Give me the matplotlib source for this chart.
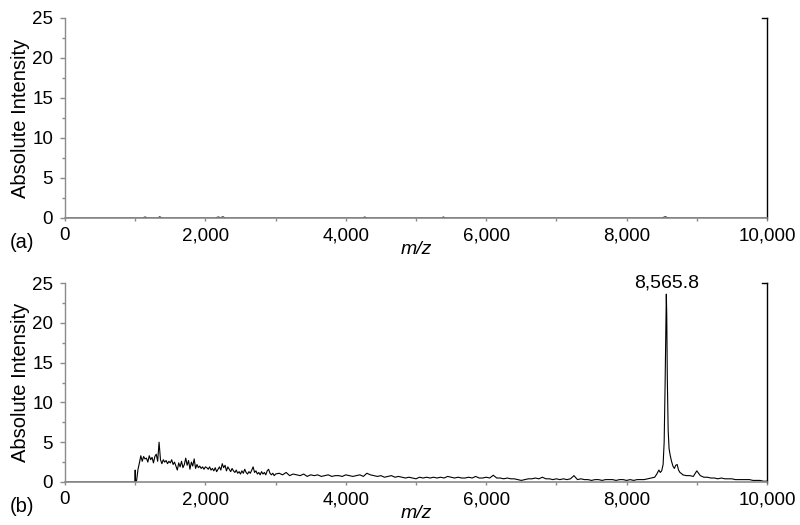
import numpy as np
import matplotlib
matplotlib.use("Agg")
import matplotlib.pyplot as plt
from matplotlib.ticker import MultipleLocator, StrMethodFormatter

plt.rcParams['font.family'] = ['Liberation Sans', 'DejaVu Sans']
plt.rcParams['font.size'] = 13.5

# ---- data ----
# panel (a): almost flat, only tiny blips
mz_a = [0, 1100, 1140, 1180, 1320, 1350, 1380, 2140, 2180, 2220, 2250, 2280,
        4240, 4270, 4300, 5360, 5390, 5420, 8500, 8550, 8600, 10000]
int_a = [0.0, 0.0, 0.12, 0.0, 0.0, 0.15, 0.0, 0.0, 0.12, 0.05, 0.15, 0.0,
         0.0, 0.12, 0.0, 0.0, 0.12, 0.0, 0.0, 0.15, 0.0, 0.0]

# panel (b): onset near m/z 1000
mz_onset = [0, 995, 1000, 1005, 1020, 1040, 1060]
int_onset = [0.0, 0.0, 1.5, 0.0, 0.2, 1.6, 2.4]

# noisy low-mass region, every 20 from 1080 to 2980
int_low = [3.3, 2.6, 3.2, 2.9, 3.0, 2.5, 3.3, 2.8, 3.1, 2.4,
           3.2, 3.5, 2.6, 5.0, 2.8, 2.3, 2.8, 2.5, 2.7, 2.3,
           2.6, 2.4, 2.8, 2.2, 2.5, 2.0, 1.5, 2.4, 1.9, 2.6,
           1.8, 2.2, 3.0, 2.1, 2.7, 1.6, 2.5, 2.0, 2.9, 1.7,
           2.2, 1.8, 2.0, 1.7, 1.9, 1.6, 1.9, 1.8, 1.6, 1.9,
           1.5, 1.7, 1.4, 1.8, 1.3, 1.6, 1.9, 1.5, 2.3, 1.8,
           2.1, 1.4, 1.9, 1.6, 1.3, 1.7, 1.4, 1.2, 1.5, 1.1,
           1.3, 1.0, 1.4, 1.1, 1.6, 1.2, 1.0, 1.3, 1.1, 1.5,
           1.9, 1.2, 1.4, 1.0, 1.2, 0.9, 1.3, 1.0, 1.2, 0.9,
           1.4, 1.6, 1.1, 0.9, 1.1, 0.8]

# baseline region, every 50 from 3000 to 8350
int_mid = [1.0, 1.1, 0.9, 1.2, 0.8, 1.0, 0.9, 0.8, 1.0, 0.7,
           0.9, 0.8, 0.9, 0.7, 0.8, 0.9, 0.7, 0.8, 0.8, 0.7,
           0.9, 0.8, 0.7, 0.8, 0.9, 0.7, 1.1, 0.9, 0.8, 0.7,
           0.8, 0.6, 0.7, 0.8, 0.6, 0.7, 0.6, 0.5, 0.6, 0.5,
           0.4, 0.6, 0.5, 0.6, 0.5, 0.6, 0.5, 0.6, 0.5, 0.7,
           0.6, 0.5, 0.6, 0.5, 0.5, 0.6, 0.5, 0.7, 0.5, 0.5,
           0.6, 0.5, 0.85, 0.5, 0.5, 0.4, 0.5, 0.4, 0.4, 0.3,
           0.2, 0.3, 0.4, 0.4, 0.5, 0.4, 0.6, 0.4, 0.4, 0.3,
           0.4, 0.3, 0.4, 0.3, 0.4, 0.8, 0.3, 0.4, 0.3, 0.3,
           0.2, 0.3, 0.3, 0.2, 0.3, 0.3, 0.3, 0.2, 0.3, 0.3,
           0.2, 0.3, 0.2, 0.3, 0.3, 0.3, 0.4, 0.5]

# main peak region
mz_peak = [8400, 8430, 8460, 8480, 8500, 8520, 8535, 8548, 8558, 8565.8,
           8572, 8580, 8592, 8605, 8620, 8640, 8660, 8680, 8700, 8720,
           8740, 8760, 8790]
int_peak = [0.6, 1.0, 1.5, 1.2, 1.4, 2.2, 5.0, 12.0, 19.0, 23.6,
            21.0, 13.0, 6.5, 4.2, 3.4, 2.6, 2.0, 1.7, 2.1, 2.2,
            1.5, 1.2, 1.0]

# tail, every 50 from 8800 to 10000
int_tail = [0.9, 0.8, 0.8, 0.7, 1.4, 0.8, 0.6, 0.6, 0.5, 0.5,
            0.4, 0.5, 0.4, 0.4, 0.4, 0.3, 0.3, 0.3, 0.3, 0.3,
            0.2, 0.2, 0.2, 0.1, 0.1]

mz_b = np.concatenate([mz_onset, np.arange(1080, 3000, 20), np.arange(3000, 8400, 50),
                       mz_peak, np.arange(8800, 10001, 50)])
int_b = np.concatenate([int_onset, int_low, int_mid, int_peak, int_tail])

peak_mz = 8565.8
peak_int = 23.6

# ---- figure ----
fig = plt.figure(figsize=(8, 5.25), dpi=100)
ax_a = fig.add_axes([65 / 800, 1 - 218 / 525, 702 / 800, 200 / 525])
ax_b = fig.add_axes([65 / 800, 1 - 482 / 525, 702 / 800, 199 / 525])

gray = '#8a8a8a'
for ax, mz, inten, tag, ytag in [(ax_a, mz_a, int_a, '(a)', 243),
                                 (ax_b, mz_b, int_b, '(b)', 506)]:
    ax.plot(mz, inten, color='black', lw=0.8, zorder=2)
    ax.set_xlim(0, 10000)
    ax.set_ylim(0, 25)
    ax.spines['top'].set_visible(False)
    ax.spines['left'].set_color(gray)
    ax.spines['bottom'].set_color(gray)
    ax.spines['left'].set_linewidth(1.0)
    ax.spines['bottom'].set_linewidth(1.2)
    ax.spines['right'].set_color('black')
    ax.spines['right'].set_linewidth(1.0)
    ax.spines['bottom'].set_zorder(3)
    # small tick at the top of the right axis
    ax.plot([0.993, 1.0], [1.0, 1.0], transform=ax.transAxes, color='black',
            lw=1.0, clip_on=False)

    ax.xaxis.set_major_locator(MultipleLocator(2000))
    ax.xaxis.set_minor_locator(MultipleLocator(1000))
    ax.yaxis.set_major_locator(MultipleLocator(5))
    ax.yaxis.set_minor_locator(MultipleLocator(2.5))
    ax.xaxis.set_major_formatter(StrMethodFormatter('{x:,.0f}'))
    ax.tick_params(axis='x', which='major', length=2.5, width=1, color=gray, pad=4)
    ax.tick_params(axis='x', which='minor', length=2, width=1, color=gray)
    ax.tick_params(axis='y', which='major', length=3.5, width=1, color=gray, pad=5)
    ax.tick_params(axis='y', which='minor', length=2, width=1, color=gray)

    ax.set_ylabel('Absolute Intensity', fontsize=14.5)
    ax.yaxis.set_label_coords(-0.05, 0.5)
    ax.set_xlabel('m/z', style='italic', fontsize=14)
    ax.xaxis.set_label_coords(0.5, -0.115)

    fig.text(10 / 800, 1 - ytag / 525, tag, ha='left', va='center', fontsize=14.5)

ax_b.annotate(f'{peak_mz:,.1f}', xy=(peak_mz, peak_int), xytext=(0, 2),
              textcoords='offset points', ha='center', va='bottom', fontsize=14)

fig.savefig('out.png', dpi=100)
